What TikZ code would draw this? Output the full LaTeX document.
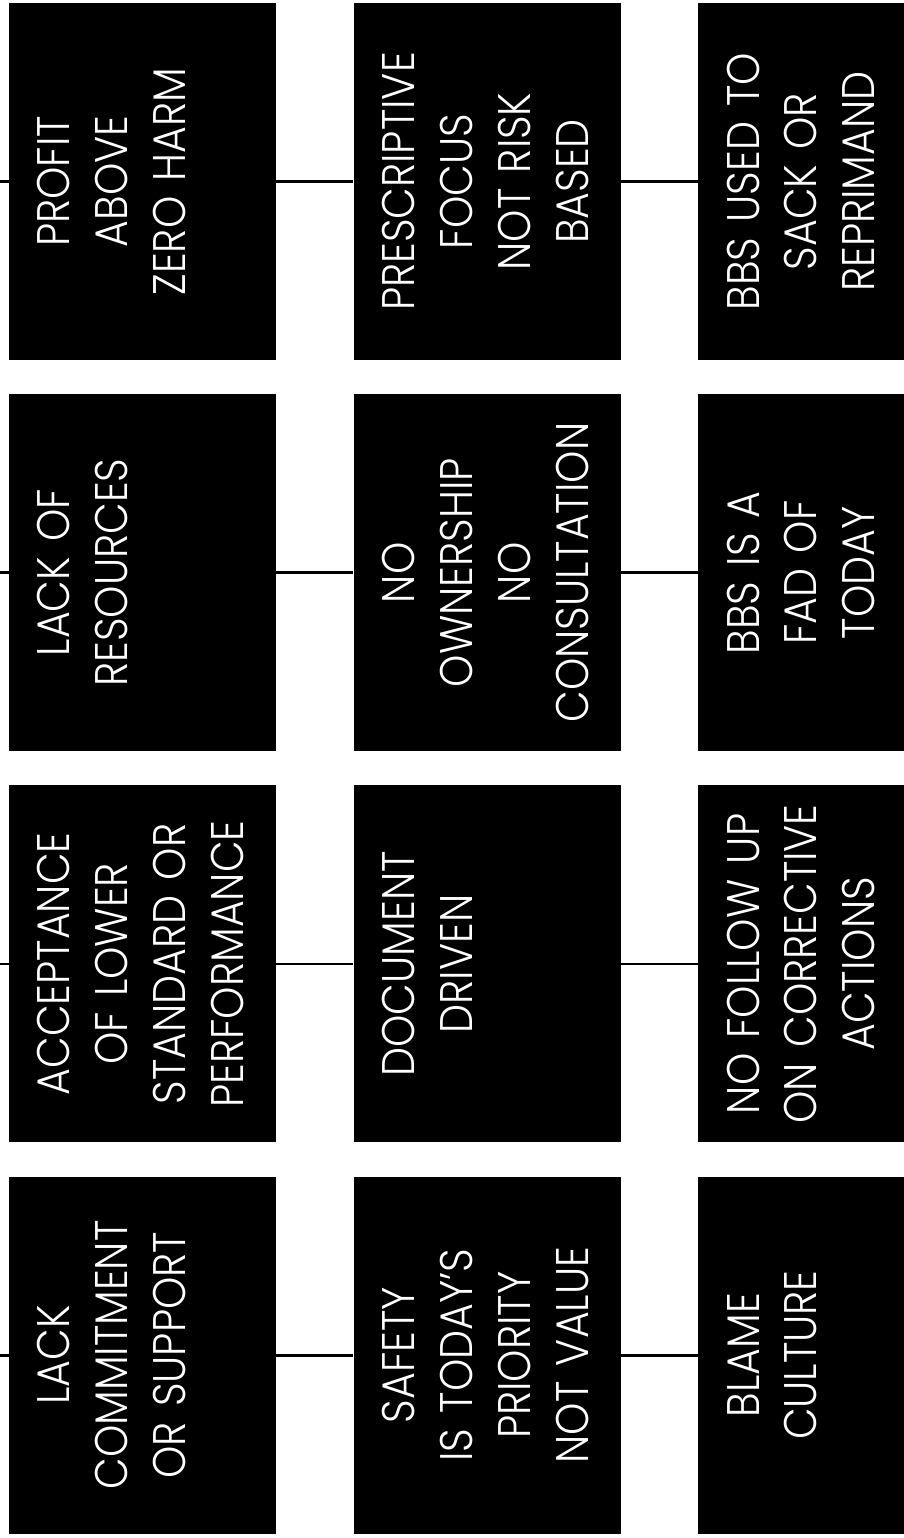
\documentclass[tikz,border=0pt]{standalone}
\usepackage{fontspec}
\setmainfont{Poppins}[UprightFont=* Light, FakeStretch=0.9]
\usetikzlibrary{positioning}

\newcommand{\vlines}[1]{\rotatebox{90}{\begin{tabular}{@{}c@{}}#1\end{tabular}}}

\begin{document}
\begin{tikzpicture}[
    node distance=0.67cm and 1.54cm,
    cause/.style={fill=black, text=white, minimum width=5.34cm, minimum height=7.14cm,
        inner xsep=0.4cm, inner ysep=0pt, text width=4.54cm, align=left,
        font=\fontsize{26}{33}\selectfont},
    effect/.style={cause, minimum width=4.14cm, text width=3.34cm},
    conn/.style={line width=1.6pt}
]
\useasboundingbox (0,0) rectangle (18.06,-30.76);

% --- 第一行 ---
\node[cause] (profit) at (2.85,-3.63) {\vlines{PROFIT\\ABOVE\\ZERO HARM}};
\node[cause, right=of profit] (prescr) {\vlines{PRESCRIPTIVE\\FOCUS\\NOT RISK\\BASED}};
\node[effect, right=of prescr] (bbsused) {\vlines{BBS USED TO\\SACK OR\\REPRIMAND}};

% --- 第二行 ---
\node[cause, below=of profit] (lackres) {\vlines{LACK OF\\RESOURCES}};
\node[cause, right=of lackres] (noown) {\vlines{NO\\OWNERSHIP\\NO\\CONSULTATION}};
\node[effect, right=of noown] (fad) {\vlines{BBS IS A\\FAD OF\\TODAY}};

% --- 第三行 ---
\node[cause, below=of lackres] (accept) {\vlines{ACCEPTANCE\\OF LOWER\\STANDARD OR\\PERFORMANCE}};
\node[cause, right=of accept] (docdrv) {\vlines{DOCUMENT\\DRIVEN}};
\node[effect, right=of docdrv] (nofollow) {\vlines{NO FOLLOW UP\\ON CORRECTIVE\\ACTIONS}};

% --- 第四行 ---
\node[cause, below=of accept] (lackcom) {\vlines{LACK\\COMMITMENT\\OR SUPPORT}};
\node[cause, right=of lackcom] (safety) {\vlines{SAFETY\\IS TODAY'S\\PRIORITY\\NOT VALUE}};
\node[effect, right=of safety] (blame) {\vlines{BLAME\\CULTURE}};

% --- 左端 ---
\coordinate (origin) at (0,0);
\coordinate (in1) at (profit.west -| origin);
\coordinate (in2) at (lackres.west -| origin);
\coordinate (in3) at (accept.west -| origin);
\coordinate (in4) at (lackcom.west -| origin);

% --- 连接线 ---
\draw[conn] (in1) -- (profit) -- (prescr) -- (bbsused);
\draw[conn] (in2) -- (lackres) -- (noown) -- (fad);
\draw[conn] (in3) -- (accept) -- (docdrv) -- (nofollow);
\draw[conn] (in4) -- (lackcom) -- (safety) -- (blame);

\end{tikzpicture}
\end{document}
